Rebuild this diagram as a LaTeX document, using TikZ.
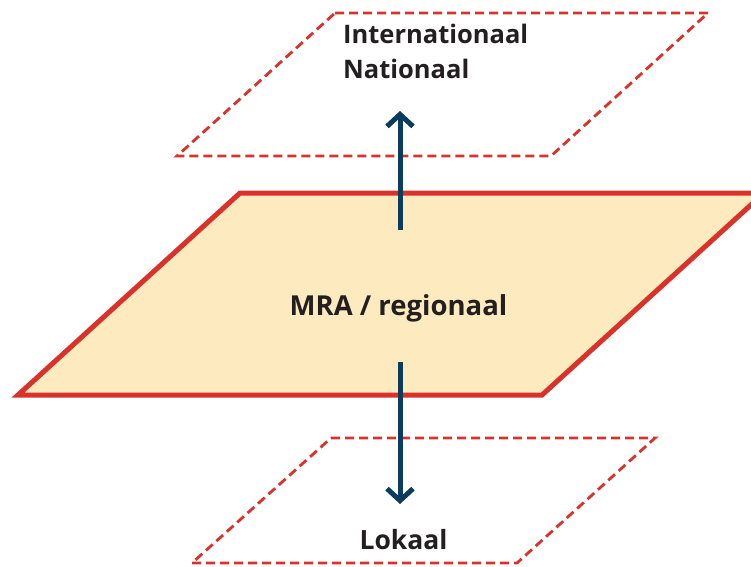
\documentclass[tikz,border=0pt]{standalone}
\usepackage{fontspec}
\setmainfont{Open Sans}[Ligatures=NoCommon]
\usetikzlibrary{arrows.meta}
\definecolor{layerred}{HTML}{D8322A}
\definecolor{layerfill}{HTML}{FDEBBF}
\definecolor{flownavy}{HTML}{0B3C5D}
\definecolor{labeltext}{HTML}{231F20}
\tikzset{
  dashedlayer/.style={draw=layerred, line width=2.8pt, dash pattern=on 9pt off 5pt, line join=miter},
  mainlayer/.style={draw=layerred, fill=layerfill, line width=5pt, line join=miter},
  flow/.style={draw=flownavy, line width=5pt,
    -{Straight Barb[length=12pt,width=26pt,line width=5pt]}},
  layerlabel/.style={font=\bfseries\fontsize{25.5pt}{30pt}\selectfont, text=labeltext, inner sep=0pt},
}
\begin{document}
\begin{tikzpicture}[x=1pt, y=-1pt]
  \useasboundingbox (0,0) rectangle (751,566);
  \clip (0,0) rectangle (751,566);

  % upper level: international / national
  \draw[dashedlayer] (335,13) -- (708,13) -- (551,156) -- (177,156) -- cycle;
  % lower level: local
  \draw[dashedlayer] (331,438) -- (655,438) -- (517,563) -- (192,563) -- cycle;
  % central level: regional
  \draw[mainlayer] (240,193) -- (764,193) -- (542,395) -- (18,395) -- cycle;

  \node[layerlabel, anchor=base west] (intl) at (343,43) {Internationaal};
  \node[layerlabel, anchor=base west] (natl) at (343,78) {Nationaal};
  \node[layerlabel, anchor=base, font=\bfseries\fontsize{27.5pt}{30pt}\selectfont] (mra) at (398.5,315) {MRA / regionaal};
  \node[layerlabel, anchor=base, font=\bfseries\fontsize{26.5pt}{30pt}\selectfont] (lok) at (403.5,549) {Lokaal};

  \coordinate (upfrom) at (400,230);
  \coordinate (upto) at (400,111);
  \coordinate (downfrom) at (400,362);
  \coordinate (downto) at (400,504);
  \draw[flow] (upfrom) -- (upto);
  \draw[flow] (downfrom) -- (downto);
\end{tikzpicture}
\end{document}
